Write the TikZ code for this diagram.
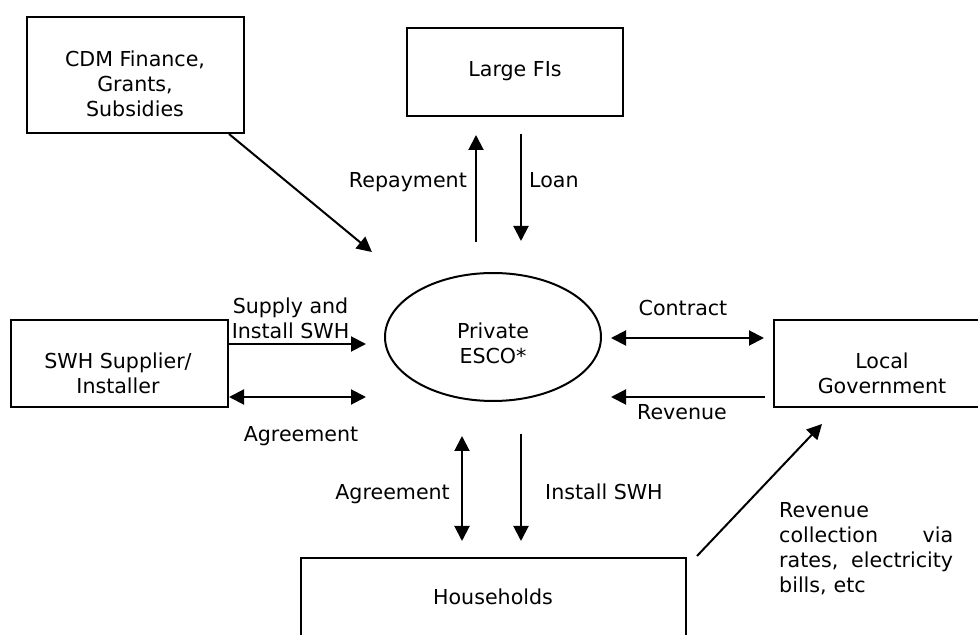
\documentclass[tikz,border=0pt]{standalone}
\usepackage{fontspec}
\setmainfont{DejaVu Sans}
\usetikzlibrary{arrows.meta,shapes.geometric}

\tikzset{
  txt/.style={font=\fontsize{20.6}{25}\selectfont, inner sep=0pt},
  box/.style={draw, line width=2pt, rectangle, inner sep=0pt},
  oval/.style={draw, line width=2pt, ellipse, inner sep=0pt},
  tip/.style={Triangle[length=15pt,width=15pt]},
  arr/.style={line width=2pt, -{Triangle[length=15pt,width=15pt]}},
  darr/.style={line width=2pt, {Triangle[length=15pt,width=15pt]}-{Triangle[length=15pt,width=15pt]}},
}

\begin{document}
\begin{tikzpicture}[x=1pt, y=1pt]
  \useasboundingbox (0,0) rectangle (978,635);
  \clip (0,0) rectangle (978,635);
  \fill[white] (0,0) rectangle (978,635);

  % outlines of the parties
  \node[box, minimum width=217pt, minimum height=116pt] (cdm) at (135.5,560) {};
  \node[box, minimum width=216pt, minimum height=88pt] (fis) at (515,563) {};
  \node[box, minimum width=217pt, minimum height=87pt] (swh) at (119.5,271.5) {};
  \node[oval, minimum width=216pt, minimum height=128pt] (esco) at (493,298) {};
  \node[box, minimum width=218pt, minimum height=87pt] (lgov) at (883,271.5) {};
  \node[box, minimum width=385pt, minimum height=80pt] (hh) at (493.5,37) {};

  % names of the parties
  \node[txt, align=center] (cdmtxt) at (135,551) {CDM Finance,\\Grants,\\Subsidies};
  \node[txt, anchor=base] (fistxt) at (515,558) {Large FIs};
  \node[txt, align=center] (swhtxt) at (118,262) {SWH Supplier/\\Installer};
  \node[txt, align=center] (escotxt) at (493,292) {Private\\ESCO*};
  \node[txt, align=center] (lgovtxt) at (882,262) {Local\\Government};
  \node[txt, anchor=base] (hhtxt) at (493,30) {Households};

  % flows
  \draw[arr] ([xshift=-16pt]cdm.south east) -- ([shift={(-44,39)}]esco.north west);
  \draw[arr] ([shift={(-17,30)}]esco.north) -- ([shift={(-39,-18)}]fis.south);
  \draw[arr] ([shift={(6,-17)}]fis.south) -- ([shift={(28,31)}]esco.north);
  \draw[arr] ([yshift=19.5pt]swh.east) -- ([shift={(-18,-7)}]esco.west);
  \draw[darr] ([yshift=-33.5pt]swh.east) -- ([shift={(-18,-60)}]esco.west);
  \draw[darr] ([shift={(9,-1)}]esco.east) -- ([shift={(-9,25.5)}]lgov.west);
  \draw[arr] ([shift={(-8,-33.5)}]lgov.west) -- ([shift={(9,-60)}]esco.east);
  \draw[darr] ([shift={(-31,-34)}]esco.south) -- ([shift={(-31.5,16)}]hh.north);
  \draw[arr] ([shift={(28,-32)}]esco.south) -- ([shift={(27.5,16)}]hh.north);
  \draw[arr] ([shift={(10,1)}]hh.north east) -- ([shift={(49,-16)}]lgov.south west);

  % flow labels
  \node[txt, anchor=base east] (lrep) at (467,447) {Repayment};
  \node[txt, anchor=base west] (lloan) at (529,447) {Loan};
  \node[txt, align=center] (lsup) at (290.5,317) {Supply and\\Install SWH};
  \node[txt, anchor=base] (lagr1) at (301,193) {Agreement};
  \node[txt, anchor=base] (lcon) at (683,319) {Contract};
  \node[txt, anchor=base] (lrev) at (682,215) {Revenue};
  \node[txt, anchor=base east] (lagr2) at (450,135) {Agreement};
  \node[txt, anchor=base west] (linst) at (545,135) {Install SWH};
  \node[txt, anchor=base west, text width=174pt, align=left] (lcol) at (779,117)
    {Revenue\\collection\hfill via\\rates,\hfill electricity\\bills, etc};
\end{tikzpicture}
\end{document}
